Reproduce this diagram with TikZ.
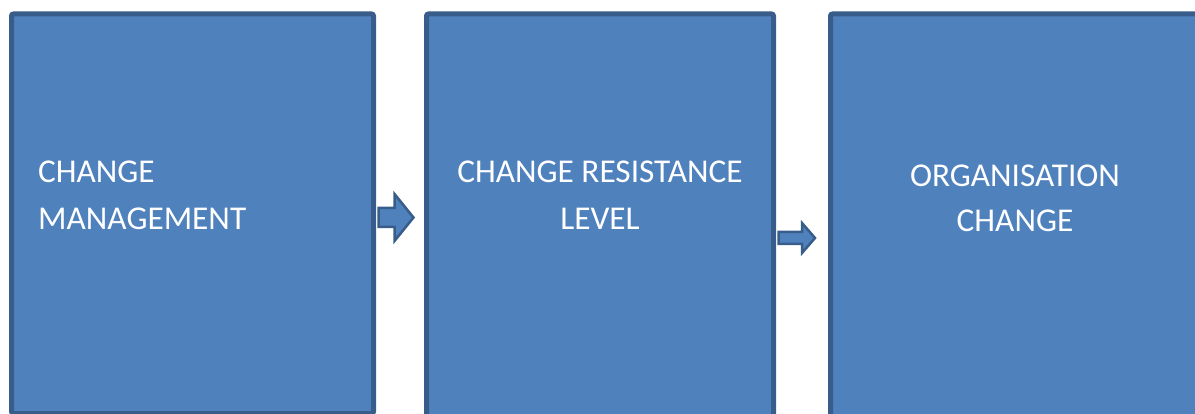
\documentclass[tikz,border=0pt]{standalone}
\usepackage{fontspec}
\setmainfont{Carlito}
\usetikzlibrary{calc}
\definecolor{boxfill}{HTML}{4F81BD}
\definecolor{boxline}{HTML}{385D8A}
\tikzset{
  blockbox/.style={draw=boxline, fill=boxfill, line width=5pt, rounded corners=2pt, inner sep=0pt, rectangle},
  boxtext/.style={text=white, inner sep=0pt, font=\fontsize{33.3}{47}\selectfont},
  barrow/.style={draw=boxline, fill=boxfill, line width=2.5pt, line join=miter},
}
\begin{document}
\begin{tikzpicture}[x=1pt, y=-1pt]
\useasboundingbox (0,0) rectangle (1195,414);
\clip (0,0) rectangle (1195,414);
\node[blockbox, minimum width=362pt, minimum height=399.5pt] (b1) at (192.5,213.75) {};
\node[blockbox, minimum width=347pt, minimum height=430pt] (b2) at (600,229) {};
\node[blockbox, minimum width=379.5pt, minimum height=430pt] (b3) at (1020.25,229) {};
% texts (anchor = baseline of the last line)
\node[boxtext, anchor=base west, align=left] (t1) at (38,230) {CHANGE\\MANAGEMENT};
\node[boxtext, anchor=base, align=center] (t2) at (600,230) {CHANGE RESISTANCE\\LEVEL};
\node[boxtext, anchor=base, align=center, font=\fontsize{33.3}{45}\selectfont] (t3) at (1015,232) {ORGANISATION\\CHANGE};
% arrows
\path (b1.east |- 0,217.5) ++(2.5,0) coordinate (a1s);
\path (b2.west |- a1s) ++(-10.5,0) coordinate (a1t);
\draw[barrow] ($(a1s)+(0,-9.5)$) -- ($(a1t)+(-19,-9.5)$) -- ($(a1t)+(-19,-23.5)$) -- (a1t)
  -- ($(a1t)+(-19,23.5)$) -- ($(a1t)+(-19,9.5)$) -- ($(a1s)+(0,9.5)$) -- cycle;
\path (b2.east |- 0,238) ++(2.5,0) coordinate (a2s);
\path (b3.west |- a2s) ++(-13,0) coordinate (a2t);
\draw[barrow] ($(a2s)+(0,-6)$) -- ($(a2t)+(-13,-6)$) -- ($(a2t)+(-13,-15)$) -- (a2t)
  -- ($(a2t)+(-13,15)$) -- ($(a2t)+(-13,6)$) -- ($(a2s)+(0,6)$) -- cycle;
\end{tikzpicture}
\end{document}
